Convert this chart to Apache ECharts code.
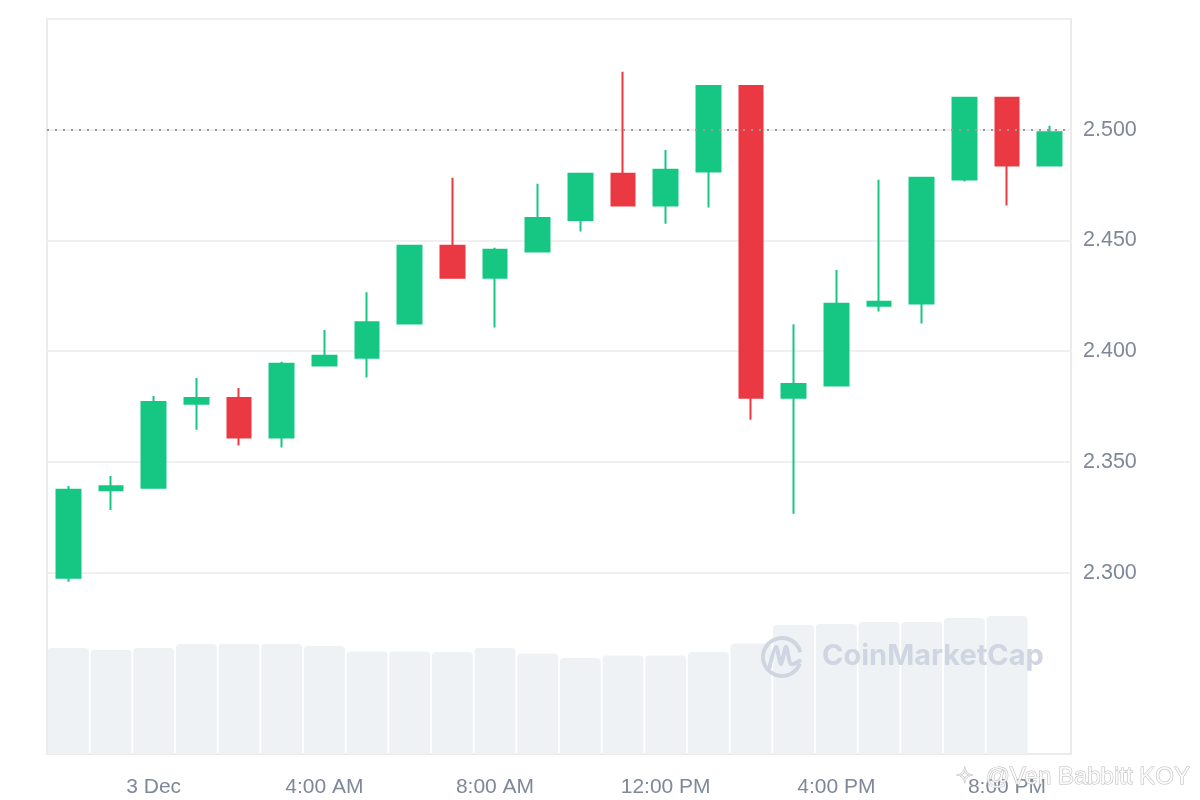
<!DOCTYPE html>
<html>
<head>
<meta charset="utf-8">
<style>html,body{margin:0;padding:0;background:#fff;}#c{width:1200px;height:800px;}</style>
<script src="https://cdn.jsdelivr.net/npm/echarts@6/dist/echarts.min.js"></script>
</head>
<body>
<div id="c"></div>
<script>
var categories = ['10:00 PM','11:00 PM','3 Dec','1:00 AM','2:00 AM','3:00 AM','4:00 AM','5:00 AM','6:00 AM','7:00 AM','8:00 AM','9:00 AM','10:00 AM','11:00 AM','12:00 PM','1:00 PM','2:00 PM','3:00 PM','4:00 PM','5:00 PM','6:00 PM','7:00 PM','8:00 PM','9:00 PM'];
var opens  = [2.2977,2.3372,2.3384,2.3763,2.3789,2.3610,2.3935,2.3971,2.4125,2.4476,2.4332,2.4450,2.4593,2.4801,2.4658,2.4811,2.5198,2.3790,2.3845,2.4205,2.4215,2.4775,2.5144,2.4838];
var closes = [2.3374,2.3390,2.3771,2.3789,2.3610,2.3943,2.3979,2.4131,2.4476,2.4332,2.4458,2.4602,2.4801,2.4658,2.4819,2.5198,2.3790,2.3852,2.4214,2.4223,2.4783,2.5144,2.4838,2.4989];
var lows   = [2.2959,2.3283,2.3384,2.3645,2.3574,2.3565,2.3935,2.3881,2.4125,2.4332,2.4107,2.4450,2.4540,2.4658,2.4576,2.4649,2.3691,2.3266,2.3845,2.4179,2.4125,2.4766,2.4658,2.4838];
var highs  = [2.3392,2.3437,2.3798,2.3879,2.3834,2.3952,2.4096,2.4266,2.4476,2.4783,2.4467,2.4756,2.4801,2.5262,2.4909,2.5198,2.5198,2.4122,2.4367,2.4774,2.4783,2.5144,2.5144,2.5018];
var volumes = [43.3,42.4,43.3,44.9,44.9,44.9,44.1,41.8,41.8,41.6,43.3,41.0,39.2,40.2,40.2,41.6,45.1,52.7,53.1,53.9,53.9,55.5,56.3,null];
var priceTicks = [2.30,2.35,2.40,2.45,2.50,2.55];

var candleData = opens.map(function(o,i){ return [o, closes[i], lows[i], highs[i]]; });
var lastClose = closes[closes.length-1];

var UP = '#16c784', DOWN = '#ea3943';
var labelColor = '#7f8899';
var font = '"Liberation Sans", Arial, sans-serif';

var chart = echarts.init(document.getElementById('c'), null, {renderer:'canvas'});
chart.setOption({
  animation: false,
  backgroundColor: '#fff',
  grid: [
    {left: 47, right: 129, top: 19, bottom: 227.3, show: false},
    {left: 47, right: 129, top: 19, bottom: 46, show: true, borderColor: '#ebebeb', borderWidth: 2, backgroundColor: 'transparent'}
  ],
  xAxis: [
    {type: 'category', gridIndex: 0, data: categories, boundaryGap: true, show: false},
    {type: 'category', gridIndex: 1, data: categories, boundaryGap: true,
     axisLine: {show: false}, axisTick: {show: false}, splitLine: {show: false},
     axisLabel: {show: true, color: labelColor, fontSize: 21, fontFamily: font, margin: 23,
       interval: function(idx){ return idx % 4 === 2; }}}
  ],
  yAxis: [
    {type: 'value', gridIndex: 0, position: 'right', min: priceTicks[0], max: priceTicks[priceTicks.length-1], interval: 0.05,
     axisLine: {show: false}, axisTick: {show: false},
     splitLine: {show: true, lineStyle: {color: '#f0f0f0', width: 2}},
     axisLabel: {color: labelColor, fontSize: 21.5, fontFamily: font, margin: 12,
       formatter: function(v){ return v > 2.54 ? '' : v.toFixed(3); }}},
    {type: 'value', gridIndex: 1, min: 0, max: 300, show: false, splitLine: {show: false}}
  ],
  series: [
    {type: 'bar', xAxisIndex: 1, yAxisIndex: 1, data: volumes, barWidth: 41, z: 1,
     itemStyle: {color: '#eff2f5', borderRadius: [4,4,0,0]}, silent: true},
    {type: 'candlestick', xAxisIndex: 0, yAxisIndex: 0, data: candleData, barWidth: 24, clip: false, z: 3,
     itemStyle: {color: UP, color0: DOWN, borderColor: UP, borderColor0: DOWN, borderWidth: 2},
     markLine: {silent: true, symbol: ['none','none'], label: {show: false},
       lineStyle: {color: '#9a9a9a', type: [2,6], width: 2},
       data: [{yAxis: lastClose}]}}
  ],
  graphic: [
    {type: 'arc', z: 10, shape: {cx: 782, cy: 657, r: 19, startAngle: 0.35, endAngle: 2*Math.PI - 0.25},
     style: {stroke: '#cfd5e1', lineWidth: 4, fill: null}},
    {type: 'polyline', z: 10, shape: {points: [[769,669],[776,647],[781,664],[786,647],[791,664],[801,660]], smooth: 0.3},
     style: {stroke: '#cfd5e1', lineWidth: 4, fill: null}},
    {type: 'text', z: 10, left: 822, top: 642,
     style: {text: 'CoinMarketCap', font: 'bold 29px Inter, "Liberation Sans", sans-serif', fill: '#cfd5e1'}},
    {type: 'text', z: 20, left: 955, top: 766,
     style: {text: '✧', font: '22px "DejaVu Sans", sans-serif', fill: 'rgba(255,255,255,0.85)', stroke: '#b9b9b9', lineWidth: 1}},
    {type: 'text', z: 20, left: 985, top: 765,
     style: {text: '@Ven Babbitt KOY', font: '24px "Liberation Sans", sans-serif', fill: 'rgba(255,255,255,0.85)', stroke: '#b9b9b9', lineWidth: 1}}
  ]
});
</script>
</body>
</html>
